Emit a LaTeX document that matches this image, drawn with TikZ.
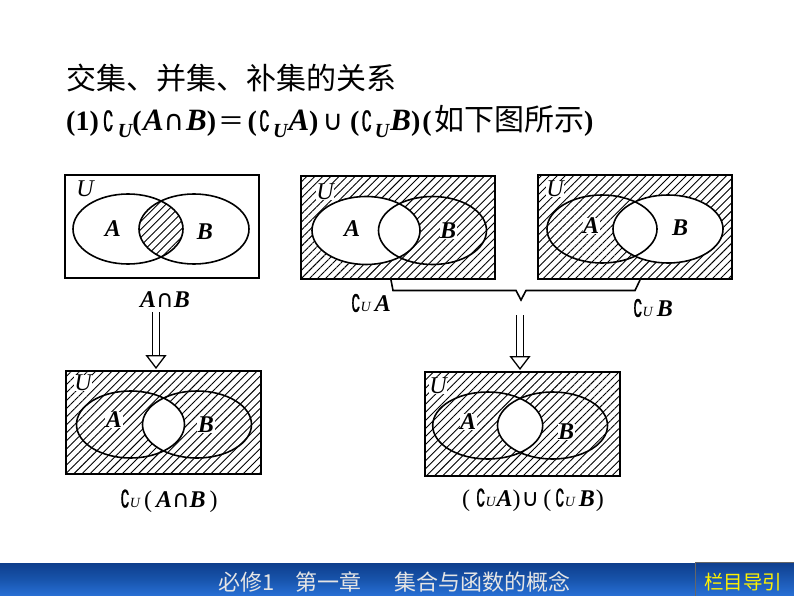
\documentclass[tikz,border=0pt]{standalone}
\usepackage{fontspec}
\setmainfont{Liberation Serif}
\newfontfamily\cjkfont{Noto Sans CJK SC}
\newfontfamily\symfont{DejaVu Sans}[BoldFont={DejaVu Sans}]
\newfontfamily\compfont{DejaVu Sans}[FakeStretch=0.62,FakeBold=1,BoldFont={DejaVu Sans}]
\usetikzlibrary{arrows.meta,positioning,shapes.geometric,patterns.meta}
\definecolor{barblue}{RGB}{24,84,172}
\definecolor{bartop}{RGB}{14,62,140}
\definecolor{barlow}{RGB}{40,112,214}
\newcommand{\comp}{{\compfont\char"2201}}
\newcommand{\inter}{{\symfont\upshape\char"2229}}
\newcommand{\unn}{{\symfont\upshape\char"222A}}
\newcommand{\subU}{\raisebox{-7pt}{\fontsize{20}{20}\selectfont\bfseries\itshape U}}
\newcommand{\capU}{{\mdseries\fontsize{14}{14}\selectfont U}}
\newcommand{\bigit}[1]{{\fontsize{31}{32}\selectfont\itshape #1}}
\tikzset{
    %Define standard arrow tip
    >=Stealth,
    universe/.style={
      rectangle,
      draw=black, line width=1.7pt,
      inner sep=0pt, outer sep=0pt},
    hatched/.style={
      pattern={Lines[angle=45,distance=5.7pt,line width=0.9pt]}},
    setoval/.style={
      ellipse,
      draw=black, line width=1.6pt,
      inner sep=0pt, outer sep=0pt},
    setname/.style={
      font=\fontsize{24}{26}\selectfont\bfseries\itshape,
      inner sep=0.5pt},
    unilabel/.style={
      font=\fontsize{24}{26}\selectfont\itshape,
      inner sep=0pt},
    capt/.style={
      font=\fontsize{24}{26}\selectfont\bfseries\itshape,
      inner sep=0pt},
    implies/.style={
      double, double distance=6.5pt, line width=1.2pt, shorten >=2pt,
      -{Triangle[open,length=14pt,width=21pt,line width=1.3pt]}},
    headline/.style={
      anchor=west, inner sep=0pt},
}
\begin{document}
\begin{tikzpicture}[x=1pt,y=-1pt]
    \useasboundingbox (0,0) rectangle (794,596);
    % headings
    \node (title) [headline,font=\fontsize{30}{32}\selectfont\cjkfont] at (66,78)
          {交集、并集、补集的关系};
    \node (rule) [headline,font=\fontsize{28}{30}\selectfont\bfseries] at (66,122)
          {(1)\hspace{4pt}\comp\hspace{4pt}\subU(\hspace{1.4pt}\bigit{A}\inter\hspace{2pt}\bigit{B})\hspace{2pt}{\cjkfont\mdseries\fontsize{26}{28}\selectfont ＝}\hspace{3.5pt}(\hspace{2pt}\comp\hspace{3pt}\subU\hspace{1pt}\bigit{A})\hspace{4pt}\unn\hspace{7pt}(\hspace{2pt}\comp\hspace{2.5pt}\subU\hspace{1pt}\bigit{B})\hspace{2pt}(\hspace{2.5pt}{\cjkfont\mdseries\fontsize{30}{32}\selectfont 如下图所示})};
    % A and B
    \node (box1) [universe,minimum width=194,minimum height=103] at (162,226.5) {};
    \begin{scope}
      \clip (128,229) ellipse (55 and 35);
      \fill [hatched] (194,229) ellipse (55 and 35);
    \end{scope}
    \node (a1) [setoval,minimum width=110,minimum height=70] at (128,229) {};
    \node (b1) [setoval,minimum width=110,minimum height=70] at (194,229) {};
    \node (u1) [unilabel] at (85,189) {U};
    \node (la1) [setname] at (113,229) {A};
    \node (lb1) [setname] at (205,232) {B};
    \node (cap1) [capt] at (165,300) {A\inter B};
    % complement of A
    \fill [hatched] (301,176) rectangle (495,279);
    \fill [white] (366,230.5) ellipse (54 and 34);
    \node (box2) [universe,minimum width=194,minimum height=103] at (398,227.5) {};
    \node (a2) [setoval,minimum width=108,minimum height=68] at (366,230.5) {};
    \node (b2) [setoval,minimum width=108,minimum height=68] at (432.5,230.5) {};
    \node (u2) [unilabel,fill=white] at (325,192) {U};
    \node (la2) [setname] at (352,229) {A};
    \node (lb2) [setname,fill=white] at (448,231) {B};
    \node (cap2) [capt] at (371,303) {{\upshape\comp}\capU\,A};
    % complement of B
    \fill [hatched] (538,175) rectangle (732,279);
    \fill [white] (668,229) ellipse (55 and 34);
    \node (box3) [universe,minimum width=194,minimum height=104] at (635,227) {};
    \node (a3) [setoval,minimum width=110,minimum height=68] at (602,229) {};
    \node (b3) [setoval,minimum width=110,minimum height=68] at (668,229) {};
    \node (u3) [unilabel,fill=white] at (555,189) {U};
    \node (la3) [setname,fill=white] at (591,226) {A};
    \node (lb3) [setname] at (680,228) {B};
    \node (cap3) [capt] at (653,308) {{\upshape\comp}\capU\,B};
    % brace between the two
    \coordinate (brl) at (391,280);
    \coordinate (brr) at (640,280);
    \coordinate (tip) at (521,300);
    \draw [line width=1.6pt] (brl) -- (393,290.5) -- (516,290.5) -- (tip) -- (526,290.5) -- (635,290.5) -- (brr);
    % complement of the intersection
    \fill [hatched] (66,371) rectangle (261,474);
    \begin{scope}
      \clip (130.5,424.5) ellipse (54 and 33.5);
      \fill [white] (197,424.5) ellipse (54.5 and 33.5);
    \end{scope}
    \node (box4) [universe,minimum width=195,minimum height=103] at (163.5,422.5) {};
    \node (a4) [setoval,minimum width=108,minimum height=67] at (130.5,424.5) {};
    \node (b4) [setoval,minimum width=109,minimum height=67] at (197,424.5) {};
    \node (u4) [unilabel,fill=white] at (83,383) {U};
    \node (la4) [setname,fill=white] at (114,420) {A};
    \node (lb4) [setname,fill=white] at (206,425) {B};
    \node (cap4) [capt] at (169,501) {{\upshape\comp}\capU{\upshape\mdseries\,(\,}A\inter B{\upshape\mdseries\,)}};
    % union of the complements
    \fill [hatched] (425,372) rectangle (620,476);
    \begin{scope}
      \clip (487.7,425.5) ellipse (55 and 33.5);
      \fill [white] (552.5,425.5) ellipse (55 and 33.5);
    \end{scope}
    \node (box5) [universe,minimum width=195,minimum height=104] at (522.5,424) {};
    \node (a5) [setoval,minimum width=110,minimum height=67] at (487.7,425.5) {};
    \node (b5) [setoval,minimum width=110,minimum height=67] at (552.5,425.5) {};
    \node (u5) [unilabel,fill=white] at (438,386) {U};
    \node (la5) [setname,fill=white] at (468,422) {A};
    \node (lb5) [setname,fill=white] at (566,432) {B};
    \node (cap5) [capt] at (533,500) {{\upshape\mdseries (\hspace{6pt}\comp}\capU\hspace{1pt}A{\upshape\mdseries )}\hspace{1pt}\unn{\upshape\mdseries\hspace{4pt}(\hspace{4pt}\comp}\capU\,B{\upshape\mdseries\hspace{1pt})}};
    % the two implications
    \coordinate (from1) at (156,312);
    \coordinate (from2) at (520,315);
    \draw [implies] (from1) -- (from1 |- box4.north);
    \draw [implies] (from2) -- (from2 |- box5.north);
    % footer
    \fill [top color=bartop,bottom color=barlow,middle color=barblue] (0,563) rectangle (794,596);
    \node (band) [anchor=west,inner sep=0pt,text=white!90!black,font=\fontsize{22}{24}\selectfont\cjkfont] at (218,582)
          {必修1\hspace{21pt}第一章\hspace{33pt}集合与函数的概念};
    \node (guidebox) [rectangle,draw=black!60,inner sep=0pt,minimum width=100,minimum height=34,
          top color=bartop,bottom color=barlow] at (745,579) {};
    \node (guide) [inner sep=0pt,text=yellow,font=\fontsize{19.5}{20}\selectfont\cjkfont] at (743,582)
          {栏目导引};
\end{tikzpicture}
\end{document}
